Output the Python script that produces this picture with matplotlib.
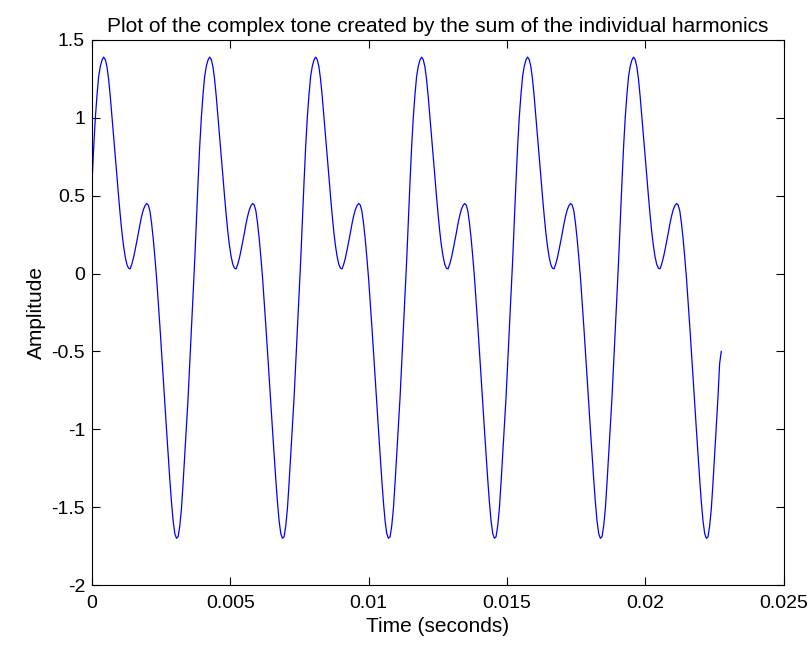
import numpy as np
import matplotlib
matplotlib.use("Agg")
import matplotlib.pyplot as plt
from matplotlib.ticker import FuncFormatter

plt.rcParams['font.family'] = ['Liberation Sans', 'DejaVu Sans']

# sample spacing of the read-off curve (64 samples per cycle of ~261 Hz)
dt = 0.000059865

# amplitude, four rows per cycle
amplitude = [
    0.58, 0.81, 1.00, 1.145, 1.265, 1.33, 1.37, 1.39, 1.375, 1.33, 1.25, 1.14, 1.01, 0.885, 0.76, 0.63,
    0.50, 0.38, 0.27, 0.18, 0.11, 0.06, 0.035, 0.03, 0.06, 0.10, 0.15, 0.205, 0.26, 0.32, 0.37, 0.41,
    0.436, 0.45, 0.44, 0.40, 0.32, 0.22, 0.10, -0.03, -0.18, -0.34, -0.50, -0.67, -0.84, -1.005, -1.165, -1.325,
    -1.47, -1.59, -1.67, -1.70, -1.69, -1.62, -1.51, -1.345, -1.16, -0.985, -0.80, -0.58, -0.36, -0.14, 0.08, 0.33,
    0.58, 0.81, 1.00, 1.145, 1.265, 1.33, 1.37, 1.39, 1.375, 1.33, 1.25, 1.14, 1.01, 0.885, 0.76, 0.63,
    0.50, 0.38, 0.27, 0.18, 0.11, 0.06, 0.035, 0.03, 0.06, 0.10, 0.15, 0.205, 0.26, 0.32, 0.37, 0.41,
    0.436, 0.45, 0.44, 0.40, 0.32, 0.22, 0.10, -0.03, -0.18, -0.34, -0.50, -0.67, -0.84, -1.005, -1.165, -1.325,
    -1.47, -1.59, -1.67, -1.70, -1.69, -1.62, -1.51, -1.345, -1.16, -0.985, -0.80, -0.58, -0.36, -0.14, 0.08, 0.33,
    0.58, 0.81, 1.00, 1.145, 1.265, 1.33, 1.37, 1.39, 1.375, 1.33, 1.25, 1.14, 1.01, 0.885, 0.76, 0.63,
    0.50, 0.38, 0.27, 0.18, 0.11, 0.06, 0.035, 0.03, 0.06, 0.10, 0.15, 0.205, 0.26, 0.32, 0.37, 0.41,
    0.436, 0.45, 0.44, 0.40, 0.32, 0.22, 0.10, -0.03, -0.18, -0.34, -0.50, -0.67, -0.84, -1.005, -1.165, -1.325,
    -1.47, -1.59, -1.67, -1.70, -1.69, -1.62, -1.51, -1.345, -1.16, -0.985, -0.80, -0.58, -0.36, -0.14, 0.08, 0.33,
    0.58, 0.81, 1.00, 1.145, 1.265, 1.33, 1.37, 1.39, 1.375, 1.33, 1.25, 1.14, 1.01, 0.885, 0.76, 0.63,
    0.50, 0.38, 0.27, 0.18, 0.11, 0.06, 0.035, 0.03, 0.06, 0.10, 0.15, 0.205, 0.26, 0.32, 0.37, 0.41,
    0.436, 0.45, 0.44, 0.40, 0.32, 0.22, 0.10, -0.03, -0.18, -0.34, -0.50, -0.67, -0.84, -1.005, -1.165, -1.325,
    -1.47, -1.59, -1.67, -1.70, -1.69, -1.62, -1.51, -1.345, -1.16, -0.985, -0.80, -0.58, -0.36, -0.14, 0.08, 0.33,
    0.58, 0.81, 1.00, 1.145, 1.265, 1.33, 1.37, 1.39, 1.375, 1.33, 1.25, 1.14, 1.01, 0.885, 0.76, 0.63,
    0.50, 0.38, 0.27, 0.18, 0.11, 0.06, 0.035, 0.03, 0.06, 0.10, 0.15, 0.205, 0.26, 0.32, 0.37, 0.41,
    0.436, 0.45, 0.44, 0.40, 0.32, 0.22, 0.10, -0.03, -0.18, -0.34, -0.50, -0.67, -0.84, -1.005, -1.165, -1.325,
    -1.47, -1.59, -1.67, -1.70, -1.69, -1.62, -1.51, -1.345, -1.16, -0.985, -0.80, -0.58, -0.36, -0.14, 0.08, 0.33,
    0.58, 0.81, 1.00, 1.145, 1.265, 1.33, 1.37, 1.39, 1.375, 1.33, 1.25, 1.14, 1.01, 0.885, 0.76, 0.63,
    0.50, 0.38, 0.27, 0.18, 0.11, 0.06, 0.035, 0.03, 0.06, 0.10, 0.15, 0.205, 0.26, 0.32, 0.37, 0.41,
    0.436, 0.45, 0.44, 0.40, 0.32, 0.22, 0.10, -0.03, -0.18, -0.34, -0.50, -0.67, -0.84, -1.005, -1.165, -1.325,
    -1.47, -1.59, -1.67, -1.70, -1.69, -1.62, -1.51, -1.345, -1.16, -0.985, -0.80, -0.58, -0.50,
]
time = np.arange(len(amplitude)) * dt

x_ticks = [0, 0.005, 0.01, 0.015, 0.02, 0.025]
y_ticks = [-2, -1.5, -1, -0.5, 0, 0.5, 1, 1.5]

fig = plt.figure(figsize=(8.08, 6.46), dpi=100)
ax = fig.add_axes([0.1139, 0.0944, 0.8558, 0.8437])

ax.plot(time, amplitude, color=(0, 0, 1), linewidth=0.9)

ax.set_xlim(0, 0.025)
ax.set_ylim(-2, 1.5)
ax.set_xticks(x_ticks)
ax.set_yticks(y_ticks)
ax.xaxis.set_major_formatter(FuncFormatter(lambda v, p: '%g' % v))
ax.yaxis.set_major_formatter(FuncFormatter(lambda v, p: '%g' % v))
ax.tick_params(direction='in', length=6, width=0.8, top=True, right=True,
               labelsize=14)
ax.tick_params(axis='x', pad=7)
ax.tick_params(axis='y', pad=5)
for s in ax.spines.values():
    s.set_linewidth(0.8)

ax.set_title('Plot of the complex tone created by the sum of the individual harmonics',
             fontsize=15, pad=6)
ax.set_xlabel('Time (seconds)', fontsize=15, labelpad=4)
ax.set_ylabel('Amplitude', fontsize=15, labelpad=4)

fig.savefig('out.png', dpi=100)
